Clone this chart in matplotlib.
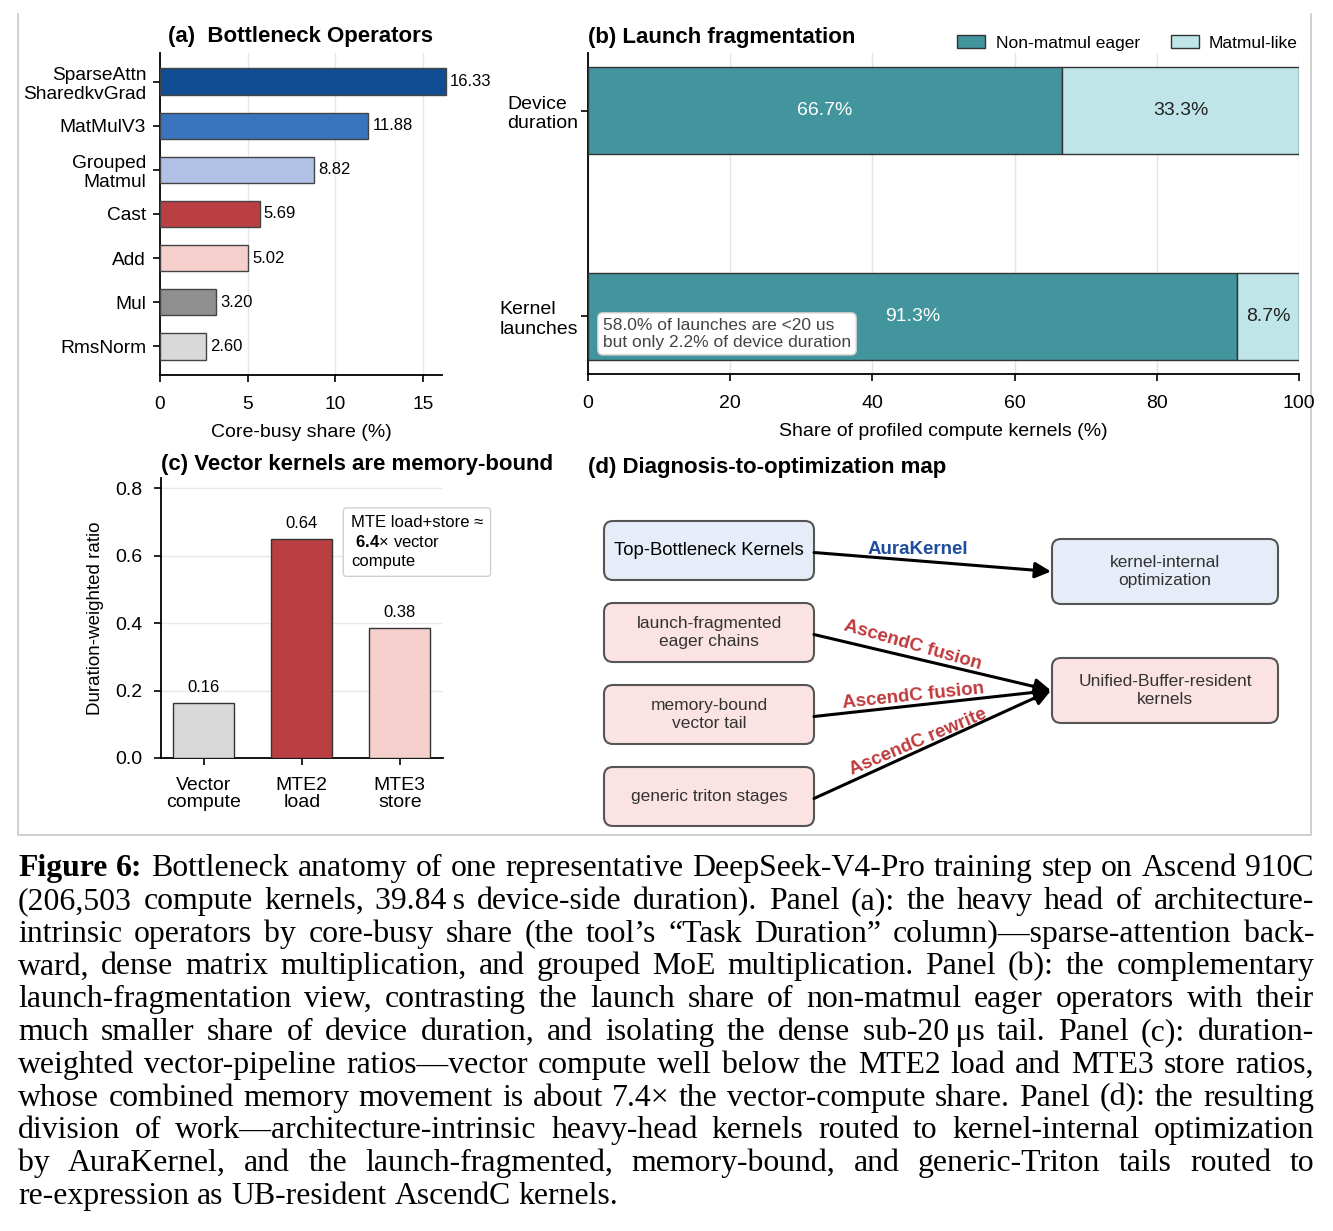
import matplotlib

matplotlib.use("Agg")
import matplotlib.pyplot as plt
from matplotlib.patches import FancyBboxPatch, Patch

W, H = 1333, 1231
SANS = ["Liberation Sans", "DejaVu Sans"]
SERIF = ["Liberation Serif", "DejaVu Serif"]

# (a) bottleneck operators
OPERATORS = ["SparseAttn\nSharedkvGrad", "MatMulV3", "Grouped\nMatmul", "Cast", "Add", "Mul", "RmsNorm"]
CORE_BUSY = [16.33, 11.88, 8.82, 5.69, 5.02, 3.20, 2.60]
OP_COLORS = ["#0f4c92", "#3a74bf", "#b1c1e5", "#b93f42", "#f5cfcc", "#8f8f8f", "#d9d9d9"]

# (b) launch fragmentation
FRAG_ROWS = ["Device\nduration", "Kernel\nlaunches"]
NON_MATMUL = [66.7, 91.3]
MATMUL_LIKE = [33.3, 8.7]
FRAG_NOTE = "58.0% of launches are <20 us\nbut only 2.2% of device duration"
TEAL = "#42959d"
PALE = "#bfe5e8"

# (c) vector pipeline ratios
PIPES = ["Vector\ncompute", "MTE2\nload", "MTE3\nstore"]
PIPE_RATIO = [0.163, 0.648, 0.385]
PIPE_LABELS = ["0.16", "0.64", "0.38"]
PIPE_COLORS = ["#d9d9d9", "#b93f42", "#f5cfcc"]
PIPE_NOTE = "MTE load+store \u2248\n $\\mathbf{6.4}$\u00d7 vector\ncompute"

# (d) diagnosis map
SOURCES = ["Top-Bottleneck Kernels", "launch-fragmented\neager chains",
           "memory-bound\nvector tail", "generic triton stages"]
TARGETS = ["kernel-internal\noptimization", "Unified-Buffer-resident\nkernels"]
ROUTES = [(0, 0, "AuraKernel"), (1, 1, "AscendC fusion"),
          (2, 1, "AscendC fusion"), (3, 1, "AscendC rewrite")]

CAPTION = [
    "Figure 6: Bottleneck anatomy of one representative DeepSeek-V4-Pro training step on Ascend 910C",
    "(206,503 compute kernels, 39.84\u2009s device-side duration). Panel (a): the heavy head of architecture-",
    "intrinsic operators by core-busy share (the tool\u2019s \u201cTask Duration\u201d column)\u2014sparse-attention back-",
    "ward, dense matrix multiplication, and grouped MoE multiplication. Panel (b): the complementary",
    "launch-fragmentation view, contrasting the launch share of non-matmul eager operators with their",
    "much smaller share of device duration, and isolating the dense sub-20\u2009\u03bcs tail. Panel (c): duration-",
    "weighted vector-pipeline ratios\u2014vector compute well below the MTE2 load and MTE3 store ratios,",
    "whose combined memory movement is about 7.4\u00d7 the vector-compute share. Panel (d): the resulting",
    "division of work\u2014architecture-intrinsic heavy-head kernels routed to kernel-internal optimization",
    "by AuraKernel, and the launch-fragmented, memory-bound, and generic-Triton tails routed to",
    "re-expression as UB-resident AscendC kernels.",
]

plt.rcParams.update({
    "font.family": SANS,
    "font.size": 13.5,
    "mathtext.fontset": "custom",
    "mathtext.rm": "Liberation Sans",
    "mathtext.bf": "Liberation Sans:bold",
    "axes.linewidth": 1.3,
    "xtick.major.size": 5,
    "ytick.major.size": 5,
    "xtick.major.width": 1.2,
    "ytick.major.width": 1.2,
})


def px_axes(fig, x0, y0, x1, y1):
    return fig.add_axes([x0 / W, 1 - y1 / H, (x1 - x0) / W, (y1 - y0) / H])


fig = plt.figure(figsize=(W / 100, H / 100), dpi=100)

# overlay in pixel coordinates for the frame, panel (d) and caption
ov = fig.add_axes([0, 0, 1, 1], zorder=0)
ov.set_xlim(0, W)
ov.set_ylim(H, 0)
ov.axis("off")
ov.plot([18, 18, 1311, 1311], [14, 835, 835, 14], color="#cccccc", lw=1.3)

# ---- (a)
ax = px_axes(fig, 160, 53, 442, 375)
ypos = list(range(len(OPERATORS)))
bars = ax.barh(ypos, CORE_BUSY, height=0.6, color=OP_COLORS, edgecolor="#444444",
               linewidth=1.0, clip_on=False, zorder=3)
for lab in ax.bar_label(bars, labels=[f"{v:.2f}" for v in CORE_BUSY], padding=3, fontsize=12):
    lab.set_annotation_clip(False)
ax.set_yticks(ypos, OPERATORS)
ax.tick_params(axis="y", pad=5, labelsize=13.8)
ax.tick_params(axis="x", pad=10, labelsize=13.8)
ax.set_ylim(6.65, -0.65)
ax.set_xlim(0, 16.1)
ax.set_xticks([0, 5, 10, 15])
ax.grid(axis="x", color="#e4e6ee", lw=1.0, zorder=0)
ax.set_axisbelow(True)
for side in ("top", "right"):
    ax.spines[side].set_visible(False)
ax.set_xlabel("Core-busy share (%)", fontsize=14, labelpad=8)
ax.set_title("(a)  Bottleneck Operators", fontsize=16, fontweight="bold", pad=8)

# ---- (b)
bx = px_axes(fig, 588, 53, 1299, 374)
rows = [0, 1]
segs1 = bx.barh(rows, NON_MATMUL, height=0.42, color=TEAL, edgecolor="#333333", lw=1.0, zorder=3)
segs2 = bx.barh(rows, MATMUL_LIKE, left=NON_MATMUL, height=0.42, color=PALE,
                edgecolor="#333333", lw=1.0, zorder=3)
bx.bar_label(segs1, labels=[f"{v:.1f}%" for v in NON_MATMUL], label_type="center",
             color="white", fontsize=14)
bx.bar_label(segs2, labels=[f"{v:.1f}%" for v in MATMUL_LIKE], label_type="center",
             color="#222222", fontsize=14)
bx.set_yticks(rows, FRAG_ROWS)
for t in bx.get_yticklabels():
    t.set_multialignment("left")
bx.tick_params(axis="y", pad=2, labelsize=14)
bx.tick_params(axis="x", pad=10, labelsize=14)
bx.set_ylim(1.28, -0.28)
bx.set_xlim(0, 100)
bx.set_xticks([0, 20, 40, 60, 80, 100])
bx.grid(axis="x", color="#e4e4e4", lw=1.0, zorder=0)
bx.set_axisbelow(True)
for side in ("top", "right"):
    bx.spines[side].set_visible(False)
bx.set_xlabel("Share of profiled compute kernels (%)", fontsize=14, labelpad=8)
bx.set_title("(b) Launch fragmentation", loc="left", fontsize=16, fontweight="bold", pad=7)
bx.text(2.1, 1.085, FRAG_NOTE, fontsize=12.5, color="#444444", va="center", ha="left",
        linespacing=1.15, zorder=5,
        bbox=dict(boxstyle="round,pad=0.3,rounding_size=0.3", fc="white", ec="#cccccc", lw=1.0))
fig.legend([Patch(fc=TEAL, ec="#333333"), Patch(fc=PALE, ec="#333333")],
           ["Non-matmul eager", "Matmul-like"], loc="center right",
           bbox_to_anchor=(1298 / W, 1 - 43 / H), ncol=2, frameon=False, fontsize=12.5,
           handlelength=1.6, handleheight=0.8, handletextpad=0.6, columnspacing=1.8,
           borderaxespad=0, borderpad=0)

# ---- (c)
cx = px_axes(fig, 160.6, 478, 443, 758)
xpos = list(range(len(PIPES)))
cbars = cx.bar(xpos, PIPE_RATIO, width=0.62, color=PIPE_COLORS, edgecolor="#333333",
               lw=1.0, zorder=3)
cx.bar_label(cbars, labels=PIPE_LABELS, padding=6, fontsize=12)
cx.set_xticks(xpos, PIPES, fontsize=14, linespacing=1.0)
cx.tick_params(axis="x", pad=9)
cx.set_xlim(-0.44, 2.44)
cx.set_ylim(0, 0.83)
cx.set_yticks([0.0, 0.2, 0.4, 0.6, 0.8])
cx.tick_params(axis="y", labelsize=14, pad=8)
cx.grid(axis="y", color="#e8e8e8", lw=1.0, zorder=0)
cx.set_axisbelow(True)
for side in ("top", "right"):
    cx.spines[side].set_visible(False)
cx.set_ylabel("Duration-weighted ratio", fontsize=13.5, labelpad=8)
cx.set_title("(c) Vector kernels are memory-bound", loc="left", fontsize=16,
             fontweight="bold", pad=6)
cx.text(1.5, 0.64, PIPE_NOTE, fontsize=12, va="center", ha="left", linespacing=1.3,
        zorder=5, bbox=dict(boxstyle="round,pad=0.45,rounding_size=0.2", fc="white",
                            ec="#d0d0d0", lw=1.0))

# ---- (d)
ov.text(588, 467, "(d) Diagnosis-to-optimization map", fontsize=16, fontweight="bold",
        va="center", ha="left")
src_x0, src_x1 = 604, 814
src_tops = [521, 603, 685, 767]
src_h = 59
tgt_x0, tgt_x1 = 1052, 1278
tgt_tops = [539, 658]
tgt_h = 65
BLUE_FILL, PINK_FILL = "#e6edf8", "#fbe3e3"


def node(x0, y0, w, h, text, fill, color, size):
    ov.add_patch(FancyBboxPatch((x0, y0), w, h, boxstyle="round,pad=0,rounding_size=9",
                                fc=fill, ec="#555555", lw=1.5))
    ov.text(x0 + w / 2, y0 + h / 2, text, ha="center", va="center", fontsize=size,
            color=color, linespacing=1.25)


for i, label in enumerate(SOURCES):
    node(src_x0, src_tops[i], src_x1 - src_x0, src_h, label,
         BLUE_FILL if i == 0 else PINK_FILL, "black" if i == 0 else "#333333",
         13.3 if i == 0 else 12.5)
for i, label in enumerate(TARGETS):
    node(tgt_x0, tgt_tops[i], tgt_x1 - tgt_x0, tgt_h, label,
         BLUE_FILL if i == 0 else PINK_FILL, "#333333", 12.5)

LABEL_SPOTS = [(918, 550, 0), (913, 645, -16), (913, 696, 6), (918, 742, 23)]
for (s, t, label), (lx, ly, rot) in zip(ROUTES, LABEL_SPOTS):
    start = (src_x1, src_tops[s] + src_h / 2 + 2)
    end = (tgt_x0 - 1, tgt_tops[t] + tgt_h / 2)
    ov.annotate("", xy=end, xytext=start,
                arrowprops=dict(arrowstyle="-|>", color="black", lw=2.2,
                                mutation_scale=24, shrinkA=0, shrinkB=0))
    color = "#1f4e9c" if s == 0 else "#bf3a3d"
    ov.text(lx, ly, label, ha="center", va="center", rotation=rot, fontsize=13.5,
            fontweight="bold", color=color, rotation_mode="anchor")


# ---- caption, justified by hand
def draw_caption(lines, left, right, first_base, step):
    renderer = fig.canvas.get_renderer()
    probe = fig.text(0, 0, "x x", fontsize=10, family=SERIF)
    # size the font so the fullest line just fits the text width
    widest = 0
    for line in lines[:-1]:
        probe.set_text(line)
        widest = max(widest, probe.get_window_extent(renderer).width)
    size = 10 * (right - left) * 0.985 / widest
    probe.remove()
    space = size * 100 / 72 * 0.25
    for row, line in enumerate(lines):
        items = []
        for col, word in enumerate(line.split(" ")):
            weight = "bold" if row == 0 and col < 2 else "normal"
            t = fig.text(0, 0, word, fontsize=size, family=SERIF, fontweight=weight,
                         ha="left", va="baseline")
            items.append((t, t.get_window_extent(renderer).width))
        total = sum(w for _, w in items)
        if row == len(lines) - 1 or len(items) < 2:
            gap = space
        else:
            gap = (right - left - total) / (len(items) - 1)
        x = left
        y = first_base + row * step
        for t, w in items:
            t.set_position((x / W, 1 - y / H))
            x += w + gap


draw_caption(CAPTION, 18, 1314, 876, 32.8)

fig.savefig("out.png", dpi=100)
